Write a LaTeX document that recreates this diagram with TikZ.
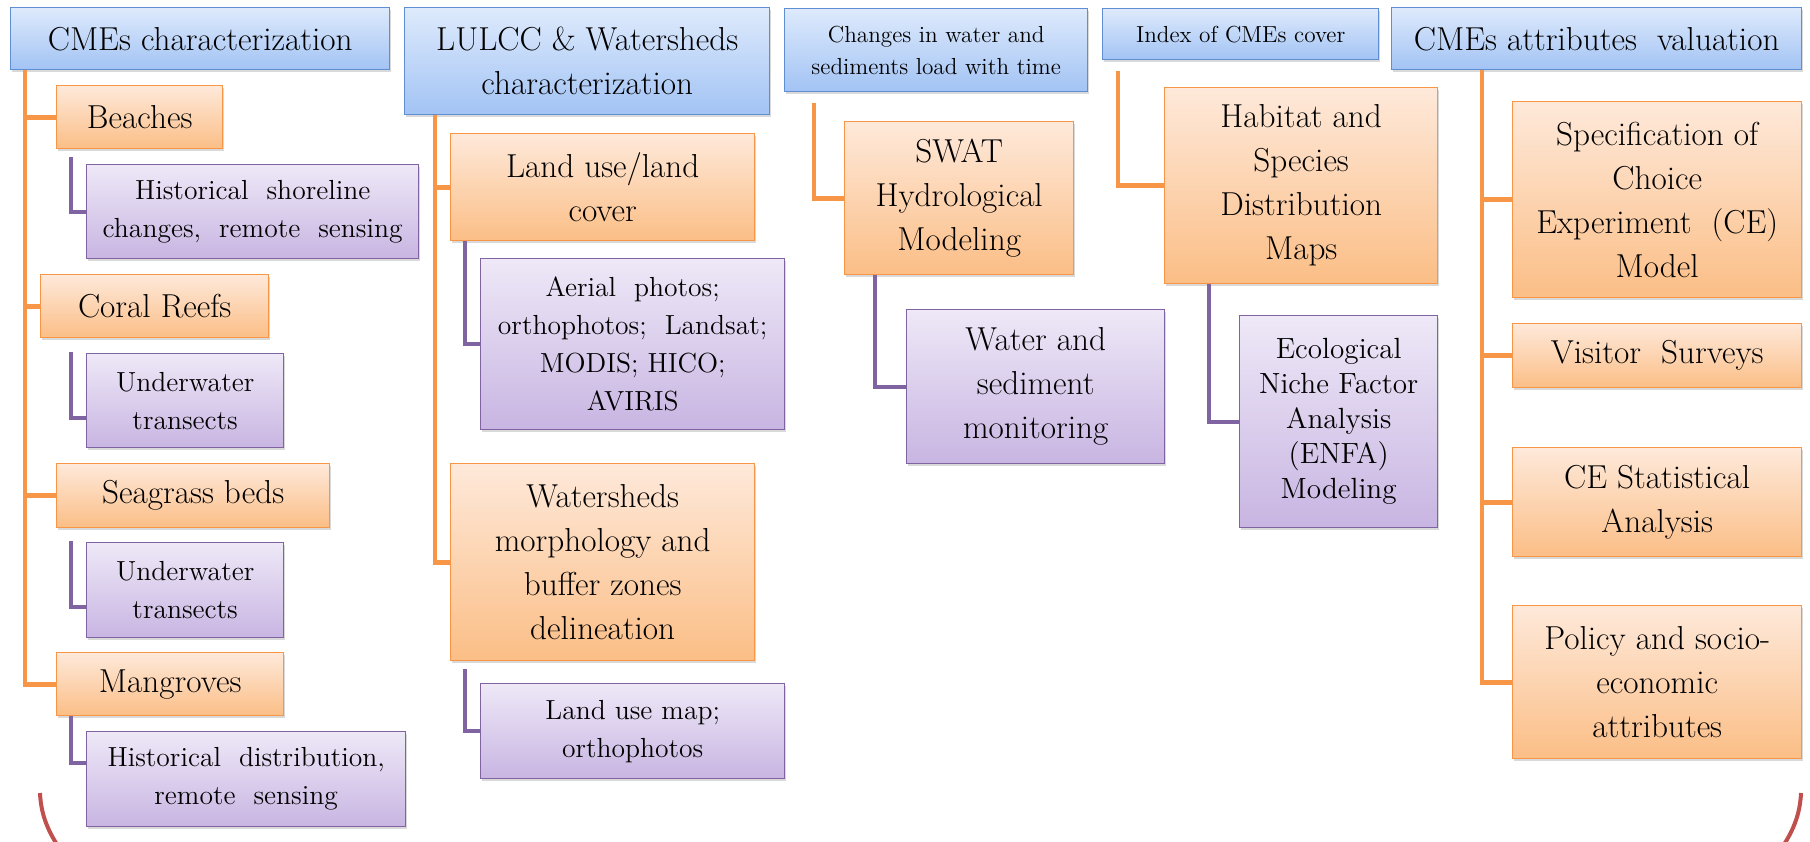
\documentclass[tikz,border=0pt]{standalone}
\usetikzlibrary{calc,shadows}
\definecolor{bluetop}{HTML}{DEEAFC}
\definecolor{bluebot}{HTML}{A2C3F4}
\definecolor{blueedge}{HTML}{5F8FD2}
\definecolor{orgtop}{HTML}{FEE9DA}
\definecolor{orgbot}{HTML}{FBBE86}
\definecolor{orgedge}{HTML}{F79646}
\definecolor{purtop}{HTML}{EEE8F7}
\definecolor{purbot}{HTML}{C8B5E2}
\definecolor{puredge}{HTML}{8064A2}
\definecolor{arcred}{HTML}{C0504D}
\tikzset{
  box/.style={draw, line width=0.7pt, inner sep=2pt, align=center, anchor=north west,
    drop shadow={opacity=0.3, shadow xshift=0.8pt, shadow yshift=-1.3pt}},
  sz/.style 2 args={minimum width=#1*0.5pt, minimum height=#2*0.5pt},
  bluebox/.style={box, draw=blueedge, top color=bluetop, bottom color=bluebot},
  orgbox/.style={box, draw=orgedge, top color=orgtop, bottom color=orgbot},
  purbox/.style={box, draw=puredge, top color=purtop, bottom color=purbot},
  bigtxt/.style={font=\fontsize{16.6}{22}\selectfont},
  medtxt/.style={font=\fontsize{13.8}{19}\selectfont},
  smalltxt/.style={font=\fontsize{11.6}{16}\selectfont},
  enfatxt/.style={font=\fontsize{14.6}{17.5}\selectfont},
  oc/.style={draw=orgedge, line width=2.3pt},
  pc/.style={draw=puredge, line width=2pt},
  redarc/.style={draw=arcred, line width=2pt}
}
\begin{document}
\begin{tikzpicture}[x=0.5pt,y=-0.5pt]
\useasboundingbox (0,0) rectangle (1810,841);
% blue headers
\node[bluebox, bigtxt, sz={379}{62}] (B1) at (10,7) {CMEs characterization};
\node[bluebox, bigtxt, sz={365}{107}] (B2) at (404,7) {LULCC \& Watersheds\\characterization};
\node[bluebox, smalltxt, sz={303}{83}] (B3) at (784,8) {Changes in water and\\sediments load with time};
\node[bluebox, smalltxt, sz={276}{51}] (B4) at (1102,8) {Index of CMEs cover};
\node[bluebox, bigtxt, sz={410}{62}] (B5) at (1391,7) {CMEs attributes\ \ valuation};
% orange boxes
\node[orgbox, bigtxt, sz={166}{63}] (Beaches) at (56,85) {Beaches};
\node[orgbox, bigtxt, sz={228}{63}] (Coral) at (40,274) {Coral Reefs};
\node[orgbox, bigtxt, sz={273}{64}] (Seagrass) at (56,463) {Seagrass beds};
\node[orgbox, bigtxt, sz={227}{63}] (Mangroves) at (56,652) {Mangroves};
\node[orgbox, bigtxt, sz={304}{107}] (Landuse) at (450,133) {Land use/land\\cover};
\node[orgbox, bigtxt, sz={304}{197}] (Watersheds) at (450,463) {Watersheds\\morphology and\\buffer zones\\delineation};
\node[orgbox, bigtxt, sz={229}{153}] (SWAT) at (844,121) {SWAT\\Hydrological\\Modeling};
\node[orgbox, bigtxt, sz={273}{196}] (Habitat) at (1164,87) {Habitat and\\Species\\Distribution\\Maps};
\node[orgbox, bigtxt, sz={289}{196}] (Spec) at (1512,101) {Specification of\\Choice\\Experiment\ \ (CE)\\Model};
\node[orgbox, bigtxt, sz={289}{64}] (Visitor) at (1512,323) {Visitor\ \ Surveys};
\node[orgbox, bigtxt, sz={289}{109}] (CEstat) at (1512,447) {CE Statistical\\Analysis};
\node[orgbox, bigtxt, sz={289}{153}] (Policy) at (1512,605) {Policy and socio-\\economic\\attributes};
% purple boxes
\node[purbox, medtxt, sz={332}{94}] (P1) at (86,164) {Historical\ \ shoreline\\changes,\ \ remote\ \ sensing};
\node[purbox, medtxt, sz={197}{94}] (P2) at (86,353) {Underwater\\transects};
\node[purbox, medtxt, sz={197}{95}] (P3) at (86,542) {Underwater\\transects};
\node[purbox, medtxt, sz={319}{95}] (P4) at (86,731) {Historical\ \ distribution,\\remote\ \ sensing};
\node[purbox, medtxt, sz={304}{171}] (P5) at (480,258) {Aerial\ \ photos;\\orthophotos;\ \ Landsat;\\MODIS; HICO;\\AVIRIS};
\node[purbox, medtxt, sz={304}{95}] (P6) at (480,683) {Land use map;\\orthophotos};
\node[purbox, bigtxt, sz={258}{154}] (P7) at (906,309) {Water and\\sediment\\monitoring};
\node[purbox, enfatxt, sz={198}{212}] (P8) at (1239,315) {Ecological\\Niche Factor\\Analysis\\(ENFA)\\Modeling};
% orange connectors
\draw[oc] ($(B1.south west)+(15,0)$) coordinate (t1) |- (Mangroves.west);
\draw[oc] (t1 |- Beaches.west) -- (Beaches.west);
\draw[oc] (t1 |- Coral.west) -- (Coral.west);
\draw[oc] (t1 |- Seagrass.west) -- (Seagrass.west);
\draw[oc] ($(B2.south west)+(31,0)$) coordinate (t2) |- (Watersheds.west);
\draw[oc] (t2 |- Landuse.west) -- (Landuse.west);
\draw[oc] ($(B3.south west)+(30,11)$) |- (SWAT.west);
\draw[oc] ($(B4.south west)+(16,11)$) |- (Habitat.west);
\draw[oc] ($(B5.south west)+(91,0)$) coordinate (t5) |- (Policy.west);
\draw[oc] (t5 |- Spec.west) -- (Spec.west);
\draw[oc] (t5 |- Visitor.west) -- (Visitor.west);
\draw[oc] (t5 |- CEstat.west) -- (CEstat.west);
% purple connectors
\draw[pc] ($(Beaches.south west)+(15,8)$) |- (P1.west);
\draw[pc] ($(Coral.south west)+(31,14)$) |- ($(P2.west)+(0,17)$);
\draw[pc] ($(Seagrass.south west)+(15,13)$) |- ($(P3.west)+(0,17)$);
\draw[pc] ($(Mangroves.south west)+(15,0)$) |- ($(P4.west)+(0,-16)$);
\draw[pc] ($(Landuse.south west)+(15,0)$) |- (P5.west);
\draw[pc] ($(Watersheds.south west)+(15,8)$) |- (P6.west);
\draw[pc] ($(SWAT.south west)+(31,0)$) |- (P7.west);
\draw[pc] ($(Habitat.south west)+(45,0)$) |- (P8.west);
% red arcs
\draw[redarc] (40,793) .. controls (41,815) and (48,832) .. (62,852);
\draw[redarc] (1801,793) .. controls (1800,815) and (1793,832) .. (1779,852);
\end{tikzpicture}
\end{document}
